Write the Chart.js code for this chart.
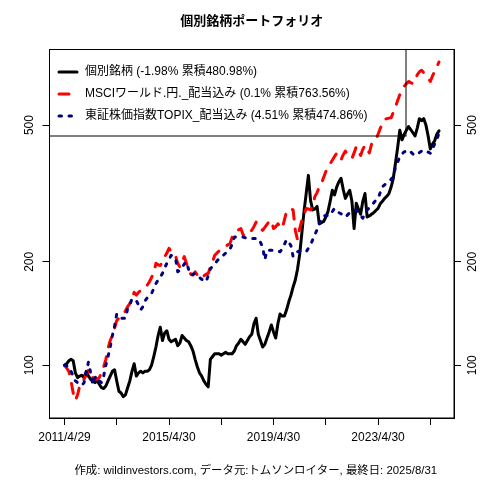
<!DOCTYPE html>
<html>
<head>
<meta charset="utf-8">
<script src="https://cdn.jsdelivr.net/npm/chart.js@4.4.1/dist/chart.umd.min.js"></script>
<style>
html, body { margin: 0; padding: 0; background: #fff; }
#wrap { width: 480px; height: 480px; }
</style>
</head>
<body>
<div id="wrap"><canvas id="MyChart" width="480" height="480"></canvas></div>
<script>
// monthly index values, 2011/4 .. 2025/8 (start = 100)
var stock = [
    100, 101, 103, 104, 103, 95, 92, 93, 93.5, 92, 96, 93,
    91, 90, 89, 90, 88, 86, 85.5, 87, 90, 93, 96, 97,
    90, 84, 83, 81, 82, 86, 90, 96, 101, 93, 95, 96,
    95, 96, 96, 97, 100, 106, 113, 122, 129, 118, 124, 126,
    119, 117, 118, 119, 114, 116, 122, 120, 118, 117, 114, 110,
    104, 99, 95, 93, 90, 88, 86.5, 104, 106, 108, 108, 108,
    107, 108, 109, 108, 108, 108, 110, 114, 116, 119, 117, 115,
    118, 121, 123, 132, 137, 123, 118, 113, 115, 120, 125, 131,
    125, 120, 132, 141, 139, 139, 145, 153, 160, 169, 177, 190,
    210, 242, 280, 316, 357, 302, 283, 285, 290, 258, 260, 262,
    270, 280, 300, 323, 313, 330, 342, 350, 325, 306, 315, 323,
    300, 250, 296, 285, 275, 300, 316, 270, 272, 275, 278, 282,
    286, 295, 300, 306, 310, 316, 330, 350, 387, 430, 483, 453,
    470, 483, 495, 485, 475, 465, 490, 522, 515, 522, 500, 465,
    426, 440, 450, 470, 481
];
var msci = [
    100, 98, 96, 90, 83, 79, 82, 87, 89, 91, 94, 97,
    93, 92, 91, 91, 92, 95, 99, 104, 112, 118, 122, 128,
    135, 137, 139, 141, 144, 148, 151, 158, 163, 160, 163, 165,
    167, 170, 171, 175, 180, 186, 198, 196, 195, 200, 207, 212,
    219, 214, 213, 208, 198, 193, 200, 207, 198, 191, 184, 183,
    187, 183, 179, 180, 182, 184, 185, 193, 200, 209, 212, 215,
    218, 220, 222, 224, 226, 236, 242, 245, 248, 250, 240, 238,
    242, 245, 247, 253, 261, 252, 250, 247, 252, 257, 262, 264,
    250, 253, 258, 254, 250, 265, 280, 283, 286, 283, 247, 232,
    250, 264, 275, 286, 285, 283, 292, 310, 318, 330, 338, 352,
    366, 376, 386, 395, 405, 414, 405, 396, 410, 420, 410, 405,
    400, 415, 433, 420, 408, 425, 437, 425, 415, 440, 445, 453,
    470, 489, 505, 520, 522, 524, 525, 545, 565, 590, 613, 630,
    649, 660, 670, 665, 660, 683, 700, 715, 722, 710, 700, 685,
    670, 695, 717, 740, 763.56
];
var topix = [
    100, 99.5, 99, 96, 93, 90, 89, 88, 87.4, 89, 95, 102,
    95, 88, 92, 93, 90, 89, 93, 100, 106, 113, 122, 130,
    141, 139, 137, 137, 137, 146, 150, 156, 156, 154, 150, 145,
    148, 154, 157, 160, 162, 167, 173, 177, 181, 185, 192, 198,
    203, 209, 207, 205, 187, 189, 193, 197, 200, 190, 183, 184,
    185, 182, 180, 178, 176, 175, 182, 191, 194, 197, 201, 204,
    207, 209, 212, 215, 218, 225, 236, 236, 236, 236, 236, 235,
    234, 234, 234, 234, 234, 234, 228, 221, 203, 216, 216, 216,
    216, 216, 215, 214, 218, 225, 232, 228, 223, 207, 210, 214,
    215, 216, 215, 214, 219, 224, 232, 240, 248, 258, 266, 272,
    273, 273, 273, 280, 286, 282, 278, 276, 273, 270, 274, 278,
    279, 281, 283, 278, 272, 268, 276, 283, 287, 291, 297, 302,
    306, 318, 331, 335, 339, 342, 348, 353, 378, 390, 405, 412,
    418, 420, 423, 418, 412, 408, 412, 416, 420, 423, 420, 417,
    414, 425, 441, 453, 474.86
];

var seriesNames = [
    '個別銘柄 (-1.98% 累積480.98%)',
    'MSCIワールド.円._配当込み (0.1% 累積763.56%)',
    '東証株価指数TOPIX_配当込み (4.51% 累積474.86%)'
];
// x ticks: month offsets from 2011/4
var xTickMonths = [0, 24, 48, 72, 96, 120, 144, 168];
var xTickLabels = ['2011/4/29', '', '2015/4/30', '', '2019/4/30', '', '2023/4/30', ''];
var yTicks = [100, 200, 500];

var titleText = '個別銘柄ポートフォリオ';
var footerText = '作成: wildinvestors.com, データ元:トムソンロイター, 最終日: 2025/8/31';

var FONT = '"Liberation Sans", Arial, "Noto Sans CJK JP", sans-serif';

function toPoints(arr) {
    return arr.map(function (v, i) { return { x: i, y: v }; });
}

var nMonths = stock.length - 1;
var xPad = nMonths * 0.04;

var styles = [
    { color: '#000000', dash: [] },
    { color: '#ff0000', dash: [10, 10] },
    { color: '#000080', dash: [2.5, 7.5] }
];

var decorPlugin = {
    id: 'decor',
    afterDraw: function (chart) {
        var ctx = chart.ctx;
        var area = chart.chartArea;
        ctx.save();
        ctx.strokeStyle = '#000';
        ctx.lineWidth = 1;
        ctx.strokeRect(area.left, area.top, area.right - area.left, area.bottom - area.top);

        // title and footer
        ctx.fillStyle = '#000';
        ctx.textAlign = 'center';
        ctx.textBaseline = 'middle';
        ctx.font = 'bold 13px ' + FONT;
        ctx.fillText(titleText, (area.left + area.right) / 2, 21);
        ctx.font = '11.4px ' + FONT;
        ctx.fillText(footerText, (area.left + area.right) / 2 + 4, 471);

        // rotated y tick labels on both sides
        ['y', 'y2'].forEach(function (id) {
            var sc = chart.scales[id];
            var lx = id === 'y' ? 30 : 473;
            yTicks.forEach(function (v) {
                var py = sc.getPixelForValue(v);
                ctx.save();
                ctx.translate(lx, py);
                ctx.rotate(-Math.PI / 2);
                ctx.font = '12px ' + FONT;
                ctx.fillText(String(v), 0, 0);
                ctx.restore();
            });
        });

        // legend box
        var bx = area.left, by = area.top, bw = 406 - area.left, bh = 136 - area.top;
        ctx.strokeRect(bx, by, bw, bh);
        var rows = [72, 94, 116];
        ctx.textAlign = 'left';
        ctx.font = '12px ' + FONT;
        seriesNames.forEach(function (name, i) {
            ctx.save();
            ctx.strokeStyle = styles[i].color;
            ctx.lineWidth = 3;
            ctx.lineCap = 'round';
            ctx.setLineDash(styles[i].dash);
            ctx.beginPath();
            ctx.moveTo(59, rows[i]);
            ctx.lineTo(77, rows[i]);
            ctx.stroke();
            ctx.restore();
            ctx.fillStyle = '#000';
            ctx.fillText(name, 85, rows[i]);
        });
        ctx.restore();
    }
};

var yScale = function (pos, w) {
    return {
        type: 'logarithmic',
        position: pos,
        min: 70.2,
        max: 830,
        afterBuildTicks: function (sc) {
            sc.ticks = yTicks.map(function (v) { return { value: v }; });
        },
        afterFit: function (sc) { sc.width = w; },
        ticks: { display: false },
        grid: { drawOnChartArea: false, drawTicks: true, tickLength: 7, color: '#000' },
        border: { display: true, color: '#000', width: 1 }
    };
};

var ctx = document.getElementById('MyChart').getContext('2d');
var MyChart = new Chart(ctx, {
    type: 'line',
    data: {
        datasets: [stock, msci, topix].map(function (arr, i) {
            return {
                label: seriesNames[i],
                data: toPoints(arr),
                borderColor: styles[i].color,
                borderDash: styles[i].dash,
                borderWidth: 3,
                borderCapStyle: 'round',
                borderJoinStyle: 'round',
                pointRadius: 0,
                tension: 0,
                fill: false,
                order: 2 - i,
                yAxisID: 'y'
            };
        })
    },
    options: {
        responsive: false,
        animation: false,
        layout: { padding: { top: 49.5, left: 0, right: 0, bottom: 0 } },
        plugins: {
            legend: { display: false },
            title: { display: false },
            tooltip: { enabled: false }
        },
        scales: {
            x: {
                type: 'linear',
                min: -xPad,
                max: nMonths + xPad,
                afterBuildTicks: function (sc) {
                    sc.ticks = xTickMonths.map(function (v) { return { value: v }; });
                },
                afterFit: function (sc) { sc.height = 62; },
                ticks: {
                    autoSkip: false,
                    maxRotation: 0,
                    padding: 5,
                    color: '#000',
                    font: { size: 12, family: FONT },
                    callback: function (value) {
                        var k = xTickMonths.indexOf(value);
                        return k >= 0 ? xTickLabels[k] : '';
                    }
                },
                grid: { drawOnChartArea: false, drawTicks: true, tickLength: 7, color: '#000' },
                border: { display: true, color: '#000', width: 1 }
            },
            y: yScale('left', 49.5),
            y2: yScale('right', 26)
        }
    },
    plugins: [decorPlugin]
});
</script>
</body>
</html>
